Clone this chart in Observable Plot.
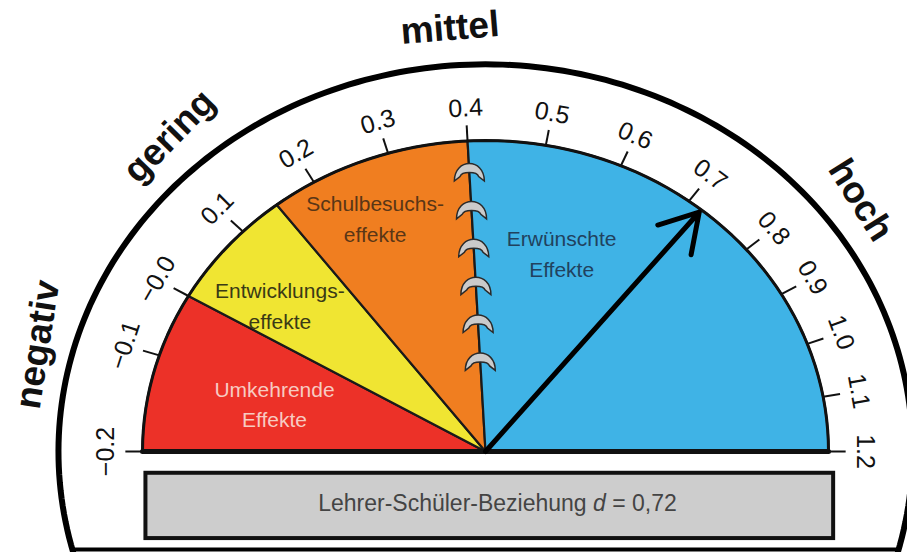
<!DOCTYPE html>
<html><head><meta charset="utf-8">
<script src="https://cdn.jsdelivr.net/npm/d3@7"></script>
<script src="https://cdn.jsdelivr.net/npm/@observablehq/plot@0.6"></script>
<style>body{margin:0;background:#fff;} svg{display:block}</style>
</head><body><div id="chart"></div>
<script>
// ---- data ----
const segmentNames = ["Umkehrende\nEffekte", "Entwicklungs-\neffekte", "Schulbesuchs-\neffekte", "Erwünschte\nEffekte"];
const segmentFrom = [-0.2, 0.0, 0.15, 0.4];
const segmentTo = [0.0, 0.15, 0.4, 1.2];
const segmentColors = ["#ec3128", "#f0e532", "#f07e20", "#3fb3e6"];
const segmentTextColors = ["#f7cbc2", "#3a3a16", "#5a3616", "#21425e"];
const tickValues = [-0.2, -0.1, 0.0, 0.1, 0.2, 0.3, 0.4, 0.5, 0.6, 0.7, 0.8, 0.9, 1.0, 1.1, 1.2];
const tickLabels = ["\u22120.2", "\u22120.1", "\u22120.0", "0.1", "0.2", "0.3", "0.4", "0.5", "0.6", "0.7", "0.8", "0.9", "1.0", "1.1", "1.2"];
const zoneLabels = ["negativ", "gering", "mittel", "hoch"];
const zoneAt = [-0.118, 0.118, 0.39, 0.84];
const effectValue = 0.72;
const caption = "Lehrer-Schüler-Beziehung d = 0,72";

// ---- gauge geometry (hand-drawn, non-uniform scale) ----
const angle = d3.scaleLinear()
  .domain([-0.2, -0.1, 0, 0.2, 0.4, 0.8, 1.2])
  .range([180, 162, 150, 120, 93, 40.5, 0]);
const toRad = a => a * Math.PI / 180;
const polar = (v, r) => ({x: r * Math.cos(toRad(angle(v))), y: r * Math.sin(toRad(angle(v)))});
const arcPts = (a0, a1, r, n = 90) => d3.range(n + 1).map(i => {
  const a = toRad(a0 + (a1 - a0) * i / n);
  return {x: r * Math.cos(a), y: r * Math.sin(a)};
});

const W = 907, H = 552, cx = 485, cy = 451, rx = 343, ry = 311;
const xDom = [-cx / rx, (W - cx) / rx];
const yDom = [(cy - H) / ry, cy / ry];
const R_OUT = 1.245;
const outerStart = -Math.asin(-yDom[0] / R_OUT) * 180 / Math.PI;

const FONT = "Liberation Sans, Arial, Helvetica, sans-serif";

const wedgeMarks = segmentNames.map((name, i) => {
  const pts = [{x: 0, y: 0}, ...arcPts(angle(segmentFrom[i]), angle(segmentTo[i]), 1), {x: 0, y: 0}];
  return Plot.line(pts, {x: "x", y: "y", fill: segmentColors[i], stroke: "#1a1a1a", strokeWidth: 2.2, curve: "linear"});
});

const labelPos = [[-0.12, 0.635], [0.056, 0.765], [0.251, 0.82], [0.568, 0.68]];
const zoneRadius = [1.35, 1.37, 1.365, 1.36];

const hinge = {
  draw(ctx, size) {
    const r = Math.sqrt(size / Math.PI);
    ctx.moveTo(-r, 0.6 * r);
    ctx.bezierCurveTo(-1.0 * r, -0.95 * r, 1.0 * r, -0.95 * r, r, 0.6 * r);
    ctx.lineTo(0.62 * r, 0.3 * r);
    ctx.bezierCurveTo(0.5 * r, -0.05 * r, -0.5 * r, -0.05 * r, -0.62 * r, 0.3 * r);
    ctx.closePath();
  }
};

const chart = Plot.plot({
  width: W, height: H,
  margin: 0,
  x: {domain: xDom, axis: null},
  y: {domain: yDom, axis: null},
  style: {background: "#fff", fontFamily: FONT},
  marks: [
    ...wedgeMarks,
    // inner arc outline
    Plot.line(arcPts(0, 180, 1), {x: "x", y: "y", stroke: "#111", strokeWidth: 3}),
    // baseline
    Plot.line([polar(-0.2, 1), polar(1.2, 1)], {x: "x", y: "y", stroke: "#111", strokeWidth: 5}),
    // ticks
    Plot.link(tickValues, {
      x1: v => polar(v, 1).x, y1: v => polar(v, 1).y,
      x2: v => polar(v, 1.05).x, y2: v => polar(v, 1.05).y,
      stroke: "#111", strokeWidth: 2
    }),
    Plot.text(tickValues, {
      x: v => polar(v, 1.105).x, y: v => polar(v, 1.105).y,
      text: (v, i) => tickLabels[i], rotate: v => 90 - angle(v),
      fontSize: 25, fill: "#111", textAnchor: "middle"
    }),
    // hinges along the 0.4 boundary
    Plot.dot(d3.range(6), {
      x: i => polar(0.4, 0.9 - i * 0.122).x, y: i => polar(0.4, 0.9 - i * 0.122).y,
      r: 15, symbol: hinge, fill: "#cbcbcb", stroke: "#2a2a2a", strokeWidth: 1.5
    }),
    // segment labels
    Plot.text(segmentNames, {
      x: (d, i) => polar(labelPos[i][0], labelPos[i][1]).x,
      y: (d, i) => polar(labelPos[i][0], labelPos[i][1]).y,
      text: d => d, fill: (d, i) => segmentTextColors[i],
      fontSize: 21, lineHeight: 1.45, textAnchor: "middle"
    }),
    // arrow
    Plot.arrow([effectValue], {
      x1: () => 0, y1: () => 0,
      x2: v => polar(v, 0.99).x, y2: v => polar(v, 0.99).y,
      stroke: "#000", strokeWidth: 5, headLength: 13, headAngle: 62
    }),
    // outer arc
    Plot.line(arcPts(outerStart, 180 - outerStart, R_OUT, 180), {x: "x", y: "y", stroke: "#000", strokeWidth: 6}),
    // bottom line
    Plot.line([{x: -R_OUT * Math.cos(toRad(outerStart)), y: yDom[0] + 0.01}, {x: R_OUT * Math.cos(toRad(outerStart)), y: yDom[0] + 0.01}],
      {x: "x", y: "y", stroke: "#000", strokeWidth: 4}),
    // zone labels
    Plot.text(zoneLabels, {
      x: (d, i) => polar(zoneAt[i], zoneRadius[i]).x, y: (d, i) => polar(zoneAt[i], zoneRadius[i]).y,
      text: d => d, rotate: (d, i) => (90 - angle(zoneAt[i])) * 1.08,
      fontSize: 37, fontWeight: "bold", fill: "#111", textAnchor: "middle"
    }),
    // caption box
    Plot.rect([caption], {
      x1: () => -0.99, x2: () => 1.015, y1: () => -0.07, y2: () => -0.28,
      fill: "#cdcdcd", stroke: "#111", strokeWidth: 4
    }),
    Plot.text([caption], {
      x: () => 0.035, y: () => -0.168, text: d => d,
      fontSize: 23, fill: "#444", textAnchor: "middle"
    })
  ]
});

// italic effect-size symbol "d" in the caption
chart.querySelectorAll("text").forEach(t => {
  if (t.textContent === caption) {
    const [a, b] = caption.split(" d ");
    t.textContent = "";
    const ns = "http://www.w3.org/2000/svg";
    const s1 = document.createElementNS(ns, "tspan"); s1.textContent = a + " ";
    const s2 = document.createElementNS(ns, "tspan"); s2.textContent = "d"; s2.setAttribute("font-style", "italic");
    const s3 = document.createElementNS(ns, "tspan"); s3.textContent = " " + b;
    t.append(s1, s2, s3);
  }
});
document.getElementById("chart").append(chart);
</script>
</body></html>
